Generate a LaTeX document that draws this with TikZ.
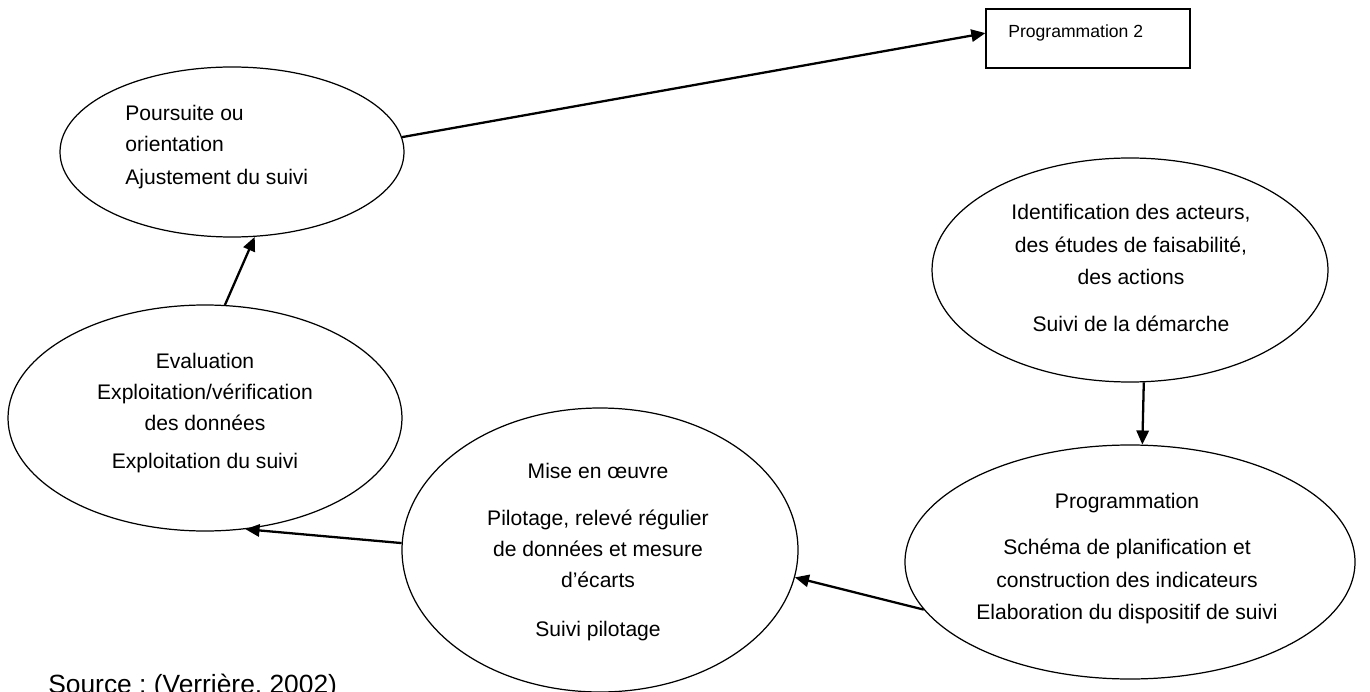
\documentclass[tikz,border=0pt]{standalone}
\usepackage{fontspec}
\setmainfont{Liberation Sans}
\usetikzlibrary{shapes.geometric,arrows.meta}
\frenchspacing

\tikzset{
 etape/.style={ellipse,draw,line width=0.7pt,inner sep=0pt},
 texte/.style={align=center,font=\fontsize{12}{17.5}\selectfont,inner sep=0pt},
 fleche/.style={-{Triangle[length=8pt,width=7pt]},line width=1.3pt},
}

\begin{document}
\begin{tikzpicture}
 \useasboundingbox (0,0) rectangle (27.4,13.82);

 % les etapes du cycle
 \node[etape,minimum width=6.88cm,minimum height=3.40cm] (poursuite) at (4.64,10.78) {};
 \node[etape,minimum width=7.88cm,minimum height=4.52cm] (evaluation) at (4.10,5.46) {};
 \node[etape,minimum width=7.92cm,minimum height=5.68cm] (mise) at (12.00,2.82) {};
 \node[etape,minimum width=7.92cm,minimum height=4.48cm] (identif) at (22.60,8.42) {};
 \node[etape,minimum width=9.00cm,minimum height=4.68cm] (progr) at (22.60,2.58) {};
 \node[draw,line width=0.7pt,minimum width=4.08cm,minimum height=1.18cm,inner sep=0pt] (progr2) at (21.76,13.05) {};

 % textes
 \node[texte,align=left,anchor=west] (poursuite-txt) at (2.50,10.88) {Poursuite ou\\orientation\\[1.5pt]Ajustement du suivi};
 \node[texte] (evaluation-txt) at (4.10,5.56) {Evaluation\\Exploitation/vérification\\des données\\[4pt]Exploitation du suivi};
 \node[texte] (mise-txt) at (11.96,2.78) {Mise en œuvre\\[9.5pt]Pilotage, relevé régulier\\de données et mesure\\d’écarts\\[10.5pt]Suivi pilotage};
 \node[texte,font=\fontsize{12}{18.7}\selectfont] (identif-txt) at (22.62,8.46) {Identification des acteurs,\\des études de faisabilité,\\des actions\\[8pt]Suivi de la démarche};
 \node[texte,font=\fontsize{12}{18.3}\selectfont] (progr-txt) at (22.54,2.65) {Programmation\\[8pt]Schéma de planification et\\construction des indicateurs\\Elaboration du dispositif de suivi};
 \node[font=\fontsize{10}{12}\selectfont,anchor=west,inner sep=0pt] (progr2-txt) at (20.16,13.16) {Programmation 2};
 \node[font=\fontsize{15}{18}\selectfont,anchor=base west,inner sep=0pt] (source) at (0.96,-0.04) {Source : (Verrière, 2002)};

 % fleches
 \draw[fleche] (poursuite.5) -- (progr2.177);
 \draw[fleche] (evaluation.80) -- (poursuite.-75);
 \draw[fleche] (identif.-83) -- (progr.84);
 \draw[fleche] (progr.193) -- (mise.-8);
 \draw[fleche] (mise.178) -- (evaluation.-70);
\end{tikzpicture}
\end{document}
